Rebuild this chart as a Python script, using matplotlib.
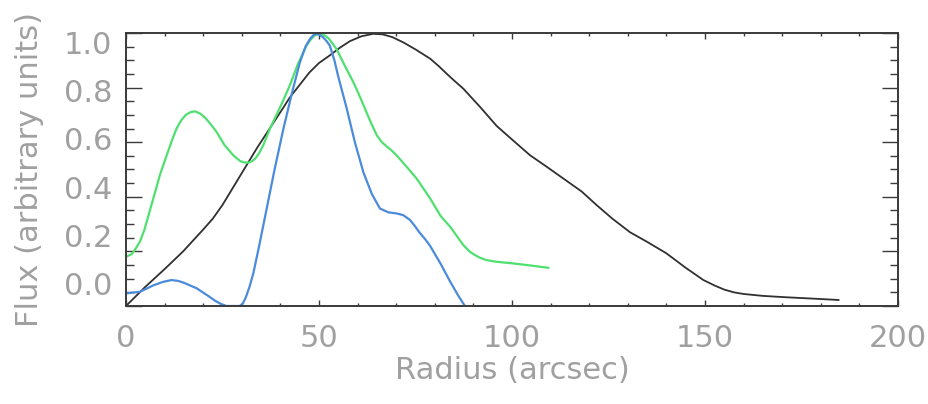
"""Radial flux profiles, normalised to peak."""

import matplotlib
matplotlib.use("Agg")
import matplotlib.pyplot as plt
from matplotlib.ticker import MultipleLocator

# profile: black (broad)
r_black = [0, 5, 10, 14.8, 20, 22.5, 25, 28, 31, 34, 37, 40, 42.5, 45, 47.5,
           50, 52.8, 55.5, 58, 61, 64, 66.5, 69, 71.8, 75, 78.8, 81, 83, 85,
           87.4, 92, 96, 100, 104.7, 109, 113.3, 118, 121.9, 126, 130.6, 135,
           140, 145, 149.6, 152.5, 155, 157.5, 160, 165, 171, 178, 184.6]
f_black = [0.0, 0.07, 0.135, 0.20, 0.28, 0.32, 0.37, 0.44, 0.51, 0.58, 0.645,
           0.71, 0.765, 0.81, 0.855, 0.89, 0.918, 0.947, 0.97, 0.988, 0.997,
           0.995, 0.985, 0.966, 0.94, 0.906, 0.879, 0.852, 0.826, 0.796, 0.725,
           0.66, 0.61, 0.552, 0.51, 0.467, 0.42, 0.37, 0.32, 0.27, 0.235, 0.193,
           0.14, 0.095, 0.075, 0.06, 0.05, 0.044, 0.037, 0.032, 0.027, 0.022]

# profile: green
r_green = [0, 1.5, 2.5, 3.6, 4.8, 6, 7.4, 8.8, 10, 11, 12, 13.1, 14.3, 15.5,
           16.7, 17.9, 19.2, 20.5, 22, 23.5, 25.5, 27.8, 28.8, 29.7, 30.7, 31.7,
           32.6, 33.5, 34.5, 35.6, 37.3, 39, 40.8, 42.5, 44.5, 46.8, 47.8, 48.8,
           49.8, 50.7, 51.6, 52.5, 53.5, 54.6, 56.7, 58.9, 60.5, 62, 63.5, 65,
           66.3, 67.5, 68.8, 70.1, 72.7, 75.3, 78.8, 81.5, 84, 87.4, 89, 90,
           91.5, 93.4, 96, 100.3, 105, 109.4]
f_green = [0.18, 0.19, 0.21, 0.235, 0.28, 0.34, 0.41, 0.48, 0.53, 0.57, 0.61,
           0.65, 0.68, 0.70, 0.71, 0.713, 0.705, 0.69, 0.665, 0.637, 0.59, 0.552,
           0.54, 0.53, 0.526, 0.525, 0.53, 0.54, 0.56, 0.59, 0.65, 0.70, 0.755,
           0.81, 0.885, 0.955, 0.975, 0.99, 0.996, 0.997, 0.99, 0.98, 0.962,
           0.94, 0.88, 0.82, 0.77, 0.72, 0.67, 0.625, 0.60, 0.585, 0.57, 0.552,
           0.51, 0.467, 0.394, 0.33, 0.29, 0.223, 0.20, 0.19, 0.178, 0.168,
           0.162, 0.156, 0.148, 0.14]

# profile: blue (narrow)
r_blue = [0, 3.6, 7, 9.5, 11.8, 13.5, 15, 18.3, 21.5, 23, 24.5, 26, 29.5, 30.3,
          31, 32, 33, 34.5, 36.5, 38.5, 40.8, 43, 45, 46.5, 47.7, 48.6, 49.4,
          50.2, 51, 52, 52.8, 54, 55, 57.2, 59.3, 61.5, 63.7, 65.8, 68, 70.1,
          71.8, 73.6, 75, 76, 77.5, 78.8, 81.5, 84, 86, 87.8]
f_blue = [0.046, 0.052, 0.075, 0.088, 0.095, 0.092, 0.085, 0.065, 0.035, 0.02,
          0.008, 0.0, 0.0, 0.01, 0.03, 0.07, 0.12, 0.22, 0.36, 0.5, 0.65, 0.78,
          0.89, 0.95, 0.979, 0.993, 0.997, 0.993, 0.985, 0.97, 0.954, 0.9, 0.84,
          0.723, 0.6, 0.49, 0.41, 0.357, 0.343, 0.339, 0.333, 0.315, 0.29, 0.27,
          0.245, 0.22, 0.155, 0.089, 0.04, 0.0]

y_ticks = [0.0, 0.2, 0.4, 0.6, 0.8, 1.0]
y_ticklabels = ["0.0", "0.2", "0.4", "0.6", "0.8", "1.0"]
x_ticks = [0, 50, 100, 150, 200]

TEXT_GRAY = "#a0a0a0"
AXIS_GRAY = "#3a3a3a"
FS = 22

plt.rcParams["font.family"] = ["DejaVu Sans"]

fig = plt.figure(figsize=(9.29, 4.04), dpi=100)
ax = fig.add_axes([0.1356, 0.2426, 0.9666 - 0.1356, 0.9183 - 0.2426])

ax.plot(r_black, f_black, color="#303030", lw=1.3)
ax.plot(r_green, f_green, color="#4fe070", lw=1.6)
ax.plot(r_blue, f_blue, color="#4a8bdc", lw=1.6)

ax.set_xlim(0, 200)
ax.set_ylim(0, 1.0)

for s in ax.spines.values():
    s.set_color(AXIS_GRAY)
    s.set_linewidth(1.4)

ax.set_xticks(x_ticks)
ax.xaxis.set_minor_locator(MultipleLocator(10))
ax.set_yticks(y_ticks)
ax.yaxis.set_minor_locator(MultipleLocator(0.05))

ax.tick_params(axis="both", which="both", direction="in", color=AXIS_GRAY,
               width=1.0, top=True, right=True)
ax.tick_params(axis="x", which="major", length=4.0, pad=13,
               labelsize=FS, labelcolor=TEXT_GRAY)
ax.tick_params(axis="x", which="minor", length=2.2)
ax.tick_params(axis="y", which="major", length=11.5, labelleft=False)
ax.tick_params(axis="y", which="minor", length=5.8)

# y labels sit slightly compressed between the top and bottom of the frame
for v, txt in zip(y_ticks, y_ticklabels):
    ax.text(-0.018, 0.07 + v * 0.886, txt, transform=ax.transAxes,
            ha="right", va="center", fontsize=FS, color=TEXT_GRAY)

ax.set_xlabel("Radius (arcsec)", fontsize=FS, color=TEXT_GRAY, va="center")
ax.xaxis.set_label_coords(0.5, -0.236)
ax.set_ylabel("Flux (arbitrary units)", fontsize=FS, color=TEXT_GRAY,
              va="center")
ax.yaxis.set_label_coords(-0.125, 0.5)

fig.savefig("out.png", dpi=100)
plt.close(fig)
